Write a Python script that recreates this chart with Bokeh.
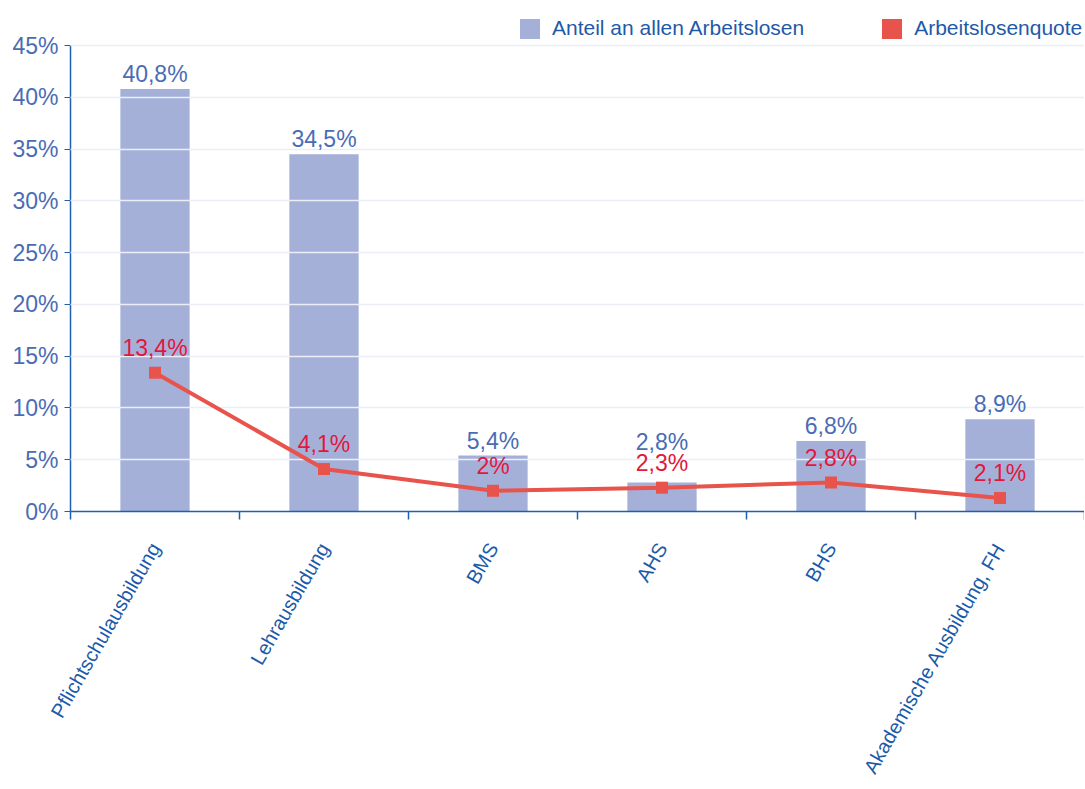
import math
from bokeh.plotting import figure
from bokeh.core.properties import value
from bokeh.models import (ColumnDataSource, FixedTicker, PrintfTickFormatter, Legend,
                          LegendItem, Range1d, LabelSet)
from bokeh.embed import file_html
from bokeh.resources import INLINE

categories = ["Pflichtschulausbildung", "Lehrausbildung", "BMS", "AHS", "BHS",
              "Akademische Ausbildung, FH"]
anteil = [40.8, 34.5, 5.4, 2.8, 6.8, 8.9]
quote = [13.4, 4.1, 2.0, 2.3, 2.8, 1.3]
quote_labels = ["13,4%", "4,1%", "2%", "2,3%", "2,8%", "2,1%"]
y_ticks = [0, 5, 10, 15, 20, 25, 30, 35, 40, 45]
series_names = ["Anteil an allen Arbeitslosen", "Arbeitslosenquote"]

FONT = "Liberation Sans"
BAR_COLOR = "#A5B0D9"
LINE_COLOR = "#E8534B"
AXIS_COLOR = "#1F5FB0"

# layout (pixels)
W, H = 1084, 789
LEFT, BOTTOM = 70, 278
AXIS_TOP_PX = 45          # where the 45% line sits
FRAME_H = H - BOTTOM      # frame spans the whole top; legend lives inside it
Y_MAX = y_ticks[-1]
y_end = Y_MAX * FRAME_H / (FRAME_H - AXIS_TOP_PX)

x = [i + 0.5 for i in range(len(categories))]
bar_labels = [f"{v:.1f}".replace(".", ",") + "%" for v in anteil]
# bar label sits above the bar, or above the line label when they would collide
bar_lab_y = [max(a, q + 3.0) for a, q in zip(anteil, quote)]

src = ColumnDataSource(dict(x=x, anteil=anteil, quote=quote, bar_lab=bar_labels,
                            q_lab=quote_labels, bar_lab_y=bar_lab_y))

p = figure(width=W, height=H, x_range=Range1d(0, len(categories)), y_range=Range1d(0, y_end),
           output_backend="svg", toolbar_location=None,
           min_border_left=LEFT, min_border_right=0, min_border_top=0, min_border_bottom=BOTTOM)
p.outline_line_color = None

bars = p.vbar(x="x", top="anteil", width=0.41, bottom=0, fill_color=BAR_COLOR,
              line_color=None, source=src)

p.xgrid.visible = False
p.ygrid.ticker = FixedTicker(ticks=y_ticks[1:])
p.ygrid.grid_line_color = "#ECEDF7"
p.ygrid.grid_line_width = 1.5
p.ygrid.level = "guide"

p.line("x", "quote", line_color=LINE_COLOR, line_width=4, source=src, level="annotation")
p.scatter("x", "quote", marker="square", size=12, fill_color=LINE_COLOR, line_color=None,
          source=src, level="annotation")

bar_ls = LabelSet(x="x", y="bar_lab_y", text="bar_lab", source=src, text_align="center",
                  text_baseline="alphabetic", y_offset=7, text_color="#4A6CB5",
                  text_font_size="23px", text_font=value(FONT), level="overlay")
q_ls = LabelSet(x="x", y="quote", text="q_lab", source=src, text_align="center",
                text_baseline="alphabetic", y_offset=17, text_color="#E2173D",
                text_font_size="23px", text_font=value(FONT), level="overlay")
p.add_layout(bar_ls)
p.add_layout(q_ls)

# legend swatch for the line series (zero-height bar, invisible in the plot)
dummy = p.vbar(x=[x[0]], top=[0], bottom=0, width=0.001, fill_color=LINE_COLOR, line_color=None)
legend = Legend(items=[LegendItem(label=series_names[0], renderers=[bars]),
                       LegendItem(label=series_names[1], renderers=[dummy])],
                orientation="horizontal", location=(447, FRAME_H - 40.5),
                border_line_color=None, background_fill_alpha=0,
                label_text_font_size="21px", label_text_color="#1F5AA6", label_text_font=FONT,
                glyph_width=25, glyph_height=25, label_standoff=10, spacing=75,
                padding=4, margin=0)
p.add_layout(legend)

p.yaxis.ticker = FixedTicker(ticks=y_ticks)
p.yaxis.bounds = (0, Y_MAX)
p.yaxis.formatter = PrintfTickFormatter(format="%d%%")
p.yaxis.major_label_text_font_size = "23px"
p.yaxis.major_label_text_color = "#4A6CB5"
p.yaxis.major_label_text_font = FONT
p.yaxis.axis_line_color = AXIS_COLOR
p.yaxis.axis_line_width = 1.5
p.yaxis.major_tick_line_color = AXIS_COLOR
p.yaxis.major_tick_out = 6
p.yaxis.major_tick_in = 0
p.yaxis.minor_tick_line_color = None
p.yaxis.major_label_standoff = 6

p.xaxis.ticker = FixedTicker(ticks=x, minor_ticks=list(range(len(categories) + 1)))
p.xaxis.major_label_overrides = {xi: c for xi, c in zip(x, categories)}
p.xaxis.major_tick_line_color = None
p.xaxis.minor_tick_out = 8
p.xaxis.minor_tick_in = 0
p.xaxis.minor_tick_line_color = AXIS_COLOR
p.xaxis.minor_tick_line_width = 1.5
p.xaxis.axis_line_color = AXIS_COLOR
p.xaxis.axis_line_width = 1.5
p.xaxis.major_label_orientation = math.pi / 3
p.xaxis.major_label_standoff = 25
p.xaxis.major_label_text_font_size = "20px"
p.xaxis.major_label_text_color = "#1A5AA8"
p.xaxis.major_label_text_font = FONT

open("out.html", "w").write(file_html(p, INLINE))
